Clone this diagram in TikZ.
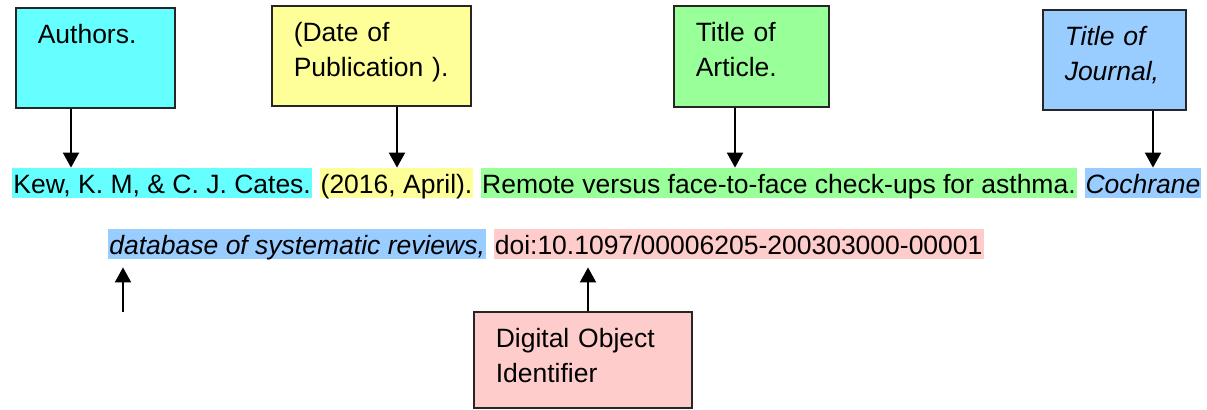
\documentclass[tikz,border=0pt]{standalone}
\usepackage{fontspec}
\setmainfont{Liberation Sans}
\usetikzlibrary{arrows.meta, positioning}
\definecolor{authcyan}{HTML}{66FFFF}
\definecolor{dateyellow}{HTML}{FFFF99}
\definecolor{titlegreen}{HTML}{99FF99}
\definecolor{journalblue}{HTML}{99CCFF}
\definecolor{doipink}{HTML}{FFCCCC}
\tikzset{
  tagbox/.style={draw=black!85, line width=0.75pt, fill=#1, anchor=north west, align=left,
    inner xsep=11pt, inner ysep=0pt, text height=18pt, text depth=32pt},
  hilite/.style={fill=#1, inner xsep=0.5pt, inner ysep=0pt, text height=12.5pt, text depth=2.5pt},
  pointer/.style={line width=1pt, -{Triangle[width=8pt, length=7.5pt]}}
}

\begin{document}
\begin{tikzpicture}[x=0.5pt, y=-0.5pt, font=\fontsize{13.25}{17.5}\selectfont]
\useasboundingbox (0,0) rectangle (1207,409);

\node[tagbox=authcyan, text width=57.5pt] (authors) at (15,7) {Authors.};
\node[tagbox=dateyellow, text width=77.5pt] (date) at (271,5) {(Date of\\Publication~).};
\node[tagbox=titlegreen, text width=55.5pt, text depth=32.5pt] (title) at (673,5) {Title of\\Article.};
\node[tagbox=journalblue, text width=49.5pt] (journal) at (1042,9) {\textit{Title of}\\\textit{Journal,}};
\node[tagbox=doipink, text width=87pt, text depth=30pt] (digital) at (473,311) {Digital Object\\Identifier};

\node[hilite=authcyan, anchor=base west] (kew) at (12,193) {Kew, K. M, \& C. J. Cates.};
\node[hilite=dateyellow, base right=3.5pt of kew] (year) {(2016, April).};
\node[hilite=titlegreen, base right=3.5pt of year] (remote) {Remote versus face-to-face check-ups for asthma.};
\node[hilite=journalblue, base right=3.5pt of remote] (cochrane) {\textit{Cochrane}};
\node[hilite=journalblue, anchor=base west] (database) at (108,254) {\textit{database of systematic reviews,}};
\node[hilite=doipink, base right=3.5pt of database] (doi) {doi:10.1097/00006205-200303000-00001};

\path (authors.south west) ++(56,0) coordinate (authfoot);
\path (date.south west) ++(126,0) coordinate (datefoot);
\path (title.south west) ++(62,0) coordinate (titlefoot);
\path (journal.south west) ++(111,0) coordinate (journalfoot);
\draw[pointer] (authfoot) -- (authfoot |- kew.north);
\draw[pointer] (datefoot) -- (datefoot |- year.north);
\draw[pointer] (titlefoot) -- (titlefoot |- remote.north);
\draw[pointer] (journalfoot) -- (journalfoot |- cochrane.north);

\coordinate (dbfoot) at (123,312);
\path (dbfoot |- database.south) ++(0,8) coordinate (dbtip);
\draw[pointer] (dbfoot) -- (dbtip);
\path (digital.north west) ++(115,0) coordinate (doifoot);
\path (doifoot |- doi.south) ++(0,8) coordinate (doitip);
\draw[pointer] (doifoot) -- (doitip);
\end{tikzpicture}
\end{document}
